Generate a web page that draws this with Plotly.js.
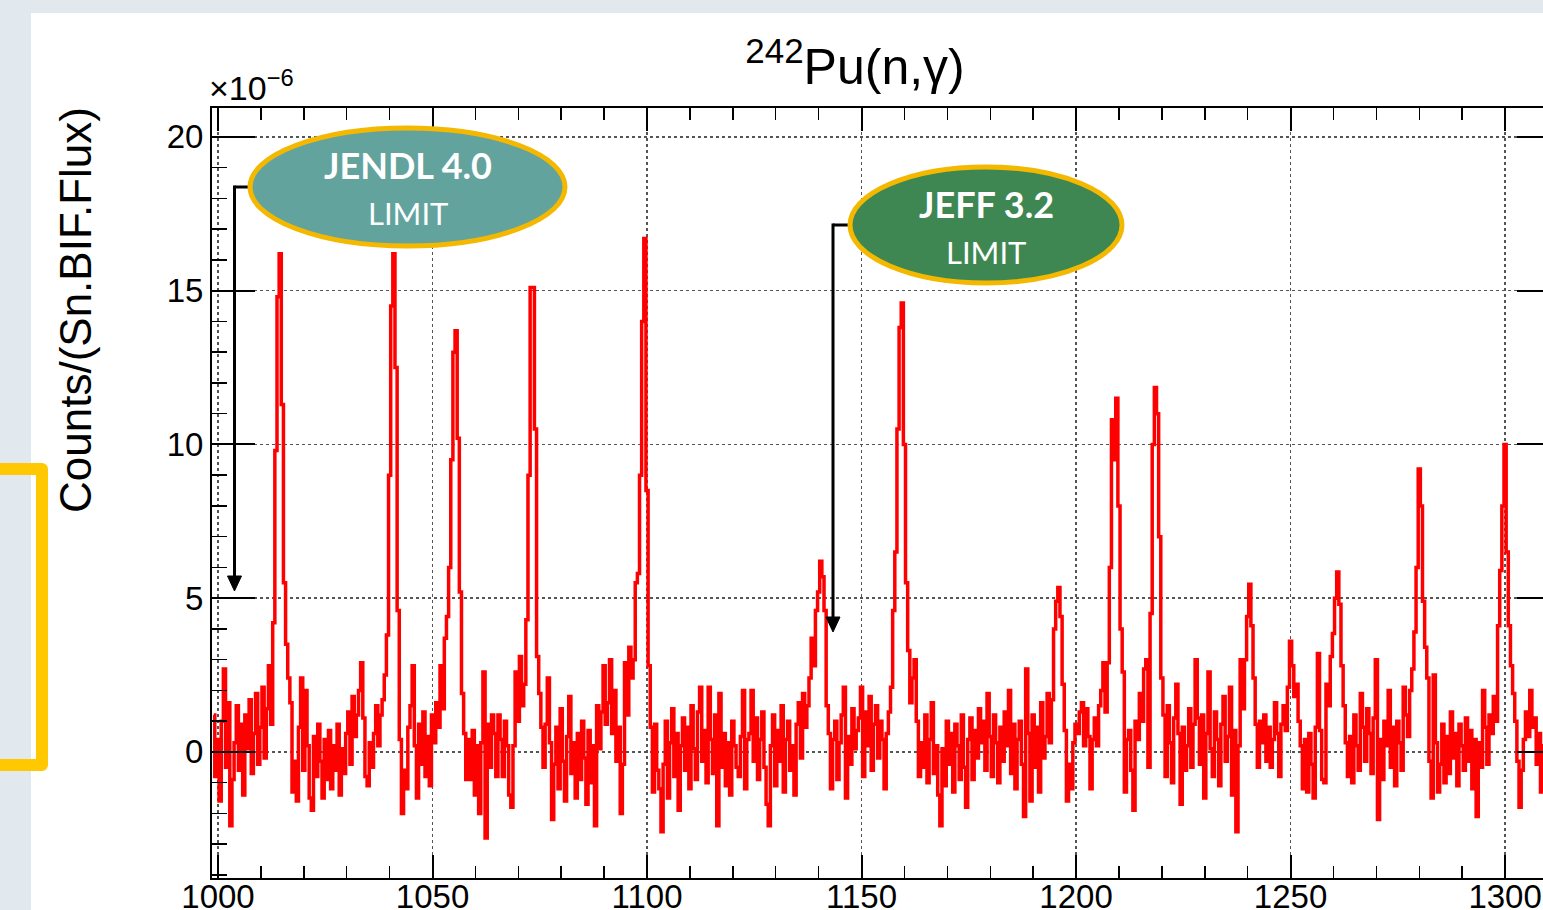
<!DOCTYPE html>
<html><head><meta charset="utf-8">
<script src="https://cdn.plot.ly/plotly-3.0.1.min.js"></script>
<style>
html,body{margin:0;padding:0;width:1543px;height:910px;overflow:hidden;background:#e1e8ee;}
#chart{position:absolute;left:31px;top:13px;width:1560px;height:950px;background:#fff;}
#bracket{position:absolute;left:-100px;top:463px;width:148px;height:308px;border:12.5px solid #ffc800;border-radius:6px;box-sizing:border-box;z-index:5;}
</style></head><body>
<div id="chart"></div><div id="bracket"></div>
<script>
// Histogram of 242Pu(n,gamma) counts, bins of 0.5 eV starting at 999.0 eV (values in units of 1e-6)
const binStart = 999.0;
const binWidth = 0.5;
const counts = [
 1.2,-0.8,0.4,-1.6,1.0,2.7,-0.5,1.6,-2.4,-0.9,
 0.3,1.5,-0.6,0.9,-1.4,1.2,0.1,1.7,-0.7,0.6,
 1.9,-0.4,0.8,2.1,-0.2,1.4,2.8,0.9,4.2,9.8,
 14.8,16.2,11.3,5.5,3.5,2.4,1.6,-1.3,-0.3,-1.6,
 0.8,2.4,-0.6,2.0,0.2,-1.5,-1.9,0.5,-0.8,0.9,
 -0.3,-1.5,0.4,-0.9,0.7,-1.2,0.2,-0.6,0.9,-1.4,
 0.1,-0.7,0.6,1.3,-0.4,1.8,0.5,1.2,2.0,2.9,
 1.1,-0.8,-1.1,0.3,-0.5,0.6,1.5,0.2,1.2,1.7,
 2.5,3.8,9.0,14.5,16.2,12.5,4.6,0.4,-2.0,-0.6,
 -1.2,0.8,1.5,2.8,0.2,-1.5,0.9,-0.4,1.3,-0.8,
 0.5,-1.1,1.2,0.3,1.6,0.8,2.8,1.4,3.7,4.4,
 6.0,9.5,13.0,13.7,10.2,5.2,1.9,0.6,-0.9,0.4,
 -0.9,0.7,-1.4,0.2,-2.0,0.3,2.6,-2.8,0.9,-0.5,
 1.2,0.6,-0.8,1.2,0.4,-0.8,1.0,0.2,-1.4,-1.8,
 0.2,2.6,1.0,3.1,1.5,2.2,4.3,9.0,15.1,15.1,
 10.5,3.1,1.9,0.8,-0.5,0.9,2.4,0.3,-2.2,-0.4,
 0.8,-1.2,1.4,-0.3,-1.6,0.5,1.8,-0.7,0.3,-1.5,
 0.6,-0.9,1.0,-0.2,-1.7,0.7,-1.0,0.2,-2.4,1.5,
 0.1,1.3,2.8,0.9,1.6,3.0,0.6,2.0,-0.3,0.8,
 -2.0,-0.4,2.9,1.2,3.4,2.4,3.0,5.5,5.8,9.0,
 14.0,16.7,8.5,2.8,0.8,-1.3,0.9,-0.6,-1.2,-2.6,
 -0.4,1.0,-1.5,0.3,1.4,-0.8,0.6,-1.9,0.2,1.1,
 -0.6,0.8,-1.2,1.5,0.1,-0.9,1.3,2.1,-0.3,0.7,
 -1.0,2.1,0.4,-0.7,1.2,-2.4,1.9,-0.5,0.6,-1.1,
 0.3,-1.4,1.0,0.2,-0.5,-0.8,0.5,2.0,-1.2,0.4,
 0.6,2.0,-0.3,1.1,-0.9,0.4,1.3,-0.5,-1.7,-2.4,
 0.2,1.2,-1.1,0.7,-0.3,1.5,-1.3,0.4,1.0,-0.6,
 0.2,-1.4,0.9,1.6,-0.2,1.9,0.8,1.5,2.4,3.7,
 2.8,4.6,5.2,6.2,5.7,4.6,1.5,0.6,-1.2,0.4,
 1.0,-0.9,0.3,1.2,2.1,-1.5,0.5,-0.4,1.4,0.1,
 0.7,1.1,2.1,-0.8,1.3,0.2,1.8,-0.6,0.9,1.5,
 -0.2,1.0,0.4,-1.2,0.6,1.3,2.1,4.6,6.5,10.5,
 13.8,14.6,10.0,5.5,3.3,1.6,2.4,3.0,1.0,-0.8,
 0.3,-0.5,1.2,-1.0,0.4,1.6,-0.7,0.2,-1.4,-2.4,
 0.1,-1.1,1.0,-0.4,0.6,-1.3,0.9,0.2,-0.9,1.2,
 -0.5,-1.8,0.4,1.1,-0.9,0.7,-0.2,1.4,0.3,1.0,
 -0.6,1.9,0.5,-0.8,1.2,0.3,-1.0,0.8,-0.3,1.3,
 0.2,2.0,-0.7,0.9,-1.2,0.4,1.0,-0.4,-2.1,2.7,
 0.6,-1.6,1.2,-0.5,0.8,-1.3,1.6,-0.2,0.5,1.9,
 0.3,1.7,4.0,4.9,5.35,4.4,2.2,0.7,-1.6,-0.4,
 -1.2,0.3,0.9,0.6,1.3,1.6,0.2,1.4,0.5,-1.2,
 0.4,1.1,0.2,1.5,2.0,2.9,1.3,2.9,6.0,10.8,
 9.5,11.5,8.0,4.0,2.6,-1.3,0.4,0.7,-0.6,-1.9,
 1.0,0.4,1.9,1.0,2.7,3.0,-0.5,4.5,10.0,11.85,
 11.0,7.0,2.4,1.2,-0.8,1.5,0.3,-1.0,1.1,2.2,
 0.6,-1.7,0.8,-0.6,0.2,1.4,-0.5,0.9,3.0,1.1,
 -0.4,1.2,-1.5,0.6,2.6,0.1,-0.8,1.3,0.4,-1.1,
 0.9,1.8,-0.3,0.5,2.1,-1.4,0.7,-2.6,0.2,3.0,
 1.4,3.0,4.4,5.45,4.1,2.4,0.9,-0.5,1.0,0.3,
 1.2,-0.3,0.8,-0.5,0.4,1.6,0.6,-0.8,0.9,1.5,
 0.7,2.1,3.6,2.8,1.8,2.2,1.0,0.2,-1.2,0.4,
 -1.3,0.6,-0.4,-1.5,0.8,3.2,0.7,-0.9,-1.0,2.2,
 1.5,3.1,3.85,5.0,5.85,4.8,2.8,1.5,0.3,-0.8,
 0.5,-1.0,1.2,0.2,-0.6,1.9,0.8,-0.3,1.4,0.6,
 -0.7,1.1,3.0,-2.2,0.4,-0.9,1.0,0.2,2.0,-0.5,
 0.8,-1.1,1.0,0.3,-0.6,2.1,1.2,0.5,2.0,2.7,
 3.9,6.0,9.2,8.0,4.9,3.4,2.4,-0.3,-1.5,2.5,
 0.3,-1.3,-0.4,0.9,-1.0,0.5,-0.7,1.3,-0.2,0.6,
 -1.1,0.9,0.2,-0.6,1.1,-0.3,0.7,-1.2,0.4,-2.1,
 0.3,-0.5,2.0,0.8,-0.4,1.2,0.6,1.8,1.0,4.1,
 5.9,8.0,10.0,6.5,4.1,2.8,1.9,1.0,-0.3,-1.8,
 -0.6,0.4,1.3,0.5,2.0,0.8,1.1,-0.4,0.6,-1.3,
 0.2,0.9,-0.5,1.1,-0.8,0.4,0.7,-0.2
];
const xTickVals = [1000,1050,1100,1150,1200,1250,1300];
const xTickText = ['1000','1050','1100','1150','1200','1250','1300'];
const yTickVals = [0,5,10,15,20];
const yTickText = ['0','5','10','15','20'];
const chartTitle = '<sup>242</sup>Pu(n,γ)';
const yTitle = 'Counts/(Sn.BIF.Flux)';
const exponentLabel = '×10<sup>−6</sup>';
const callouts = [
  {name:'JENDL 4.0', sub:'LIMIT', fill:'#62a39e'},
  {name:'JEFF 3.2', sub:'LIMIT', fill:'#3e8753'}
];

const energies = counts.map((_, i) => binStart + i * binWidth);

// page-pixel -> paper helpers (plot area in page pixels: x 212..1560, y 108..878)
const PL = 212, PR = 1560, PT = 108, PB = 878;
const px = v => (v - PL) / (PR - PL);
const py = v => (PB - v) / (PB - PT);

const font = 'Liberation Sans, Arial, Helvetica, sans-serif';
const calloutFont = 'Lato, Open Sans, sans-serif';

const ellipses = [
  {x0:250, x1:565, y0:128, y1:246, arrowX:234.5, arrowTip:591},
  {x0:850, x1:1122, y0:167, y1:283, arrowX:833, arrowTip:632}
];

const shapes = [];
const annotations = [];
ellipses.forEach((e, k) => {
  const cy = (e.y0 + e.y1) / 2;
  shapes.push({type:'line', xref:'paper', yref:'paper', x0:px(e.x0+4), x1:px(e.arrowX), y0:py(cy), y1:py(cy), line:{color:'#000', width:3}, layer:'above'});
  shapes.push({type:'line', xref:'paper', yref:'paper', x0:px(e.arrowX), x1:px(e.arrowX), y0:py(cy-1.5), y1:py(e.arrowTip-12), line:{color:'#000', width:3}, layer:'above'});
  shapes.push({type:'path', xref:'paper', yref:'paper',
    path:`M ${px(e.arrowX-7)} ${py(e.arrowTip-15)} L ${px(e.arrowX+7)} ${py(e.arrowTip-15)} L ${px(e.arrowX)} ${py(e.arrowTip)} Z`,
    fillcolor:'#000', line:{color:'#000', width:1}, layer:'above'});
  shapes.push({type:'circle', xref:'paper', yref:'paper', x0:px(e.x0), x1:px(e.x1), y0:py(e.y1), y1:py(e.y0),
    fillcolor:callouts[k].fill, line:{color:'#f5b800', width:5}, layer:'above'});
  const cx = (e.x0 + e.x1) / 2;
  annotations.push({xref:'paper', yref:'paper', x:px(cx), y:py(e.y0+37), text:'<b>'+callouts[k].name+'</b>', showarrow:false,
    xanchor:'center', yanchor:'middle', font:{family:calloutFont, size:36, color:'#fff'}});
  annotations.push({xref:'paper', yref:'paper', x:px(cx), y:py(e.y0+85), text:callouts[k].sub, showarrow:false,
    xanchor:'center', yanchor:'middle', font:{family:calloutFont, size:31, color:'#fff'}});
});

annotations.push({xref:'paper', yref:'paper', x:px(75), y:py(310), text:yTitle, textangle:-90, showarrow:false,
  xanchor:'center', yanchor:'middle', font:{family:font, size:44, color:'#000'}});
annotations.push({xref:'paper', yref:'paper', x:px(207), y:py(109), text:exponentLabel, showarrow:false,
  xanchor:'left', yanchor:'bottom', font:{family:font, size:34, color:'#000'}});

const trace = {
  x: energies, y: counts, type:'scatter', mode:'lines',
  line:{shape:'hvh', color:'#ff0000', width:3.5}, hoverinfo:'skip'
};

const axisCommon = {
  showline:true, linecolor:'#000', linewidth:2, mirror:'allticks',
  ticks:'inside', tickcolor:'#000', tickwidth:2,
  showgrid:true, gridcolor:'#555', griddash:'dot', gridwidth:1.5,
  zeroline:false, tickfont:{family:font, size:33, color:'#000'}
};

const layout = {
  width:1560, height:950,
  margin:{l:181, r:31, t:95, b:85},
  paper_bgcolor:'#fff', plot_bgcolor:'#fff',
  showlegend:false,
  title:{text:chartTitle, font:{family:font, size:50, color:'#000'}, xref:'paper', x:px(855), xanchor:'center',
    yref:'container', y:1 - (66-13)/950, yanchor:'middle'},
  xaxis: Object.assign({}, axisCommon, {
    range:[998.6, 1312.8], tickmode:'array', tickvals:xTickVals, ticktext:xTickText, ticklen:23,
    ticklabelstandoff:-12,
    minor:{tickmode:'linear', tick0:1000, dtick:10, ticks:'inside', ticklen:12, tickwidth:1.5, tickcolor:'#000', showgrid:false}
  }),
  yaxis: Object.assign({}, axisCommon, {
    range:[-4.1, 20.94], tickmode:'array', tickvals:yTickVals, ticktext:yTickText, ticklen:43,
    minor:{tickmode:'linear', tick0:0, dtick:1, ticks:'inside', ticklen:15, tickwidth:1.5, tickcolor:'#000', showgrid:false}
  }),
  shapes: shapes,
  annotations: annotations
};

Plotly.newPlot('chart', [trace], layout, {displayModeBar:false, staticPlot:true});
</script>
</body></html>
